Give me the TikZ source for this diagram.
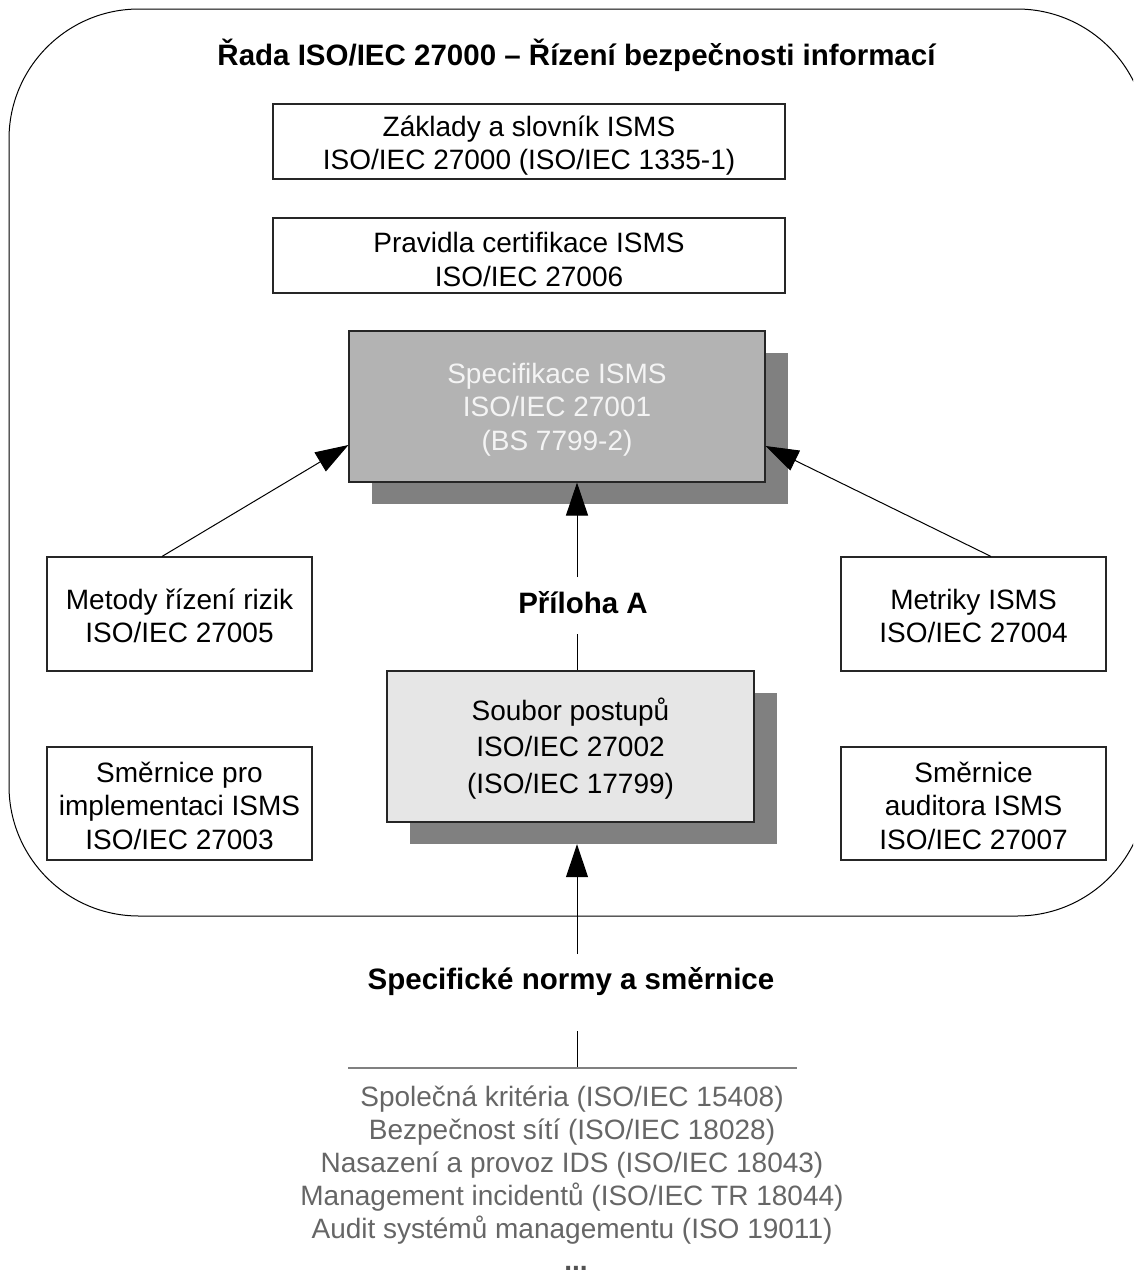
\documentclass[tikz,border=0pt]{standalone}
\usepackage{fontspec}
\setmainfont{Liberation Sans}
\usetikzlibrary{arrows.meta}

\definecolor{specfill}{HTML}{B3B3B3}
\definecolor{codefill}{HTML}{E6E6E6}
\definecolor{shadowgray}{HTML}{808080}
\definecolor{listgray}{HTML}{666666}
\definecolor{specink}{HTML}{F4F4F4}

\begin{document}
\begin{tikzpicture}[x=1pt,y=-1pt,
  every node/.style={font=\fontsize{28}{33.5}\selectfont, inner sep=0pt},
  frame/.style 2 args={draw=black!85, line width=1.1pt, fill=white,
    minimum width=#1, minimum height=#2},
  boxtext/.style={align=center},
  shadowbox/.style 2 args={fill=shadowgray, minimum width=#1, minimum height=#2},
  arr/.style={draw=black, line width=1pt, -{Triangle[length=33pt,width=22pt]}},
  plain/.style={draw=black, line width=1pt},
  heading/.style={font=\fontsize{29.5}{34}\selectfont\bfseries}]

  \clip (0,0) rectangle (1133,1277);

  % outer frame of the series
  \draw[line width=1pt, rounded corners=130pt] (9,9) rectangle (1147,916);

  \node[heading] (title) at (576.5,55) {Řada ISO/IEC 27000 – Řízení bezpečnosti informací};

  % upper boxes
  \node[frame={512pt}{75pt}] (vocab) at (529,141.5) {};
  \node[boxtext] (vocabtext) at ([yshift=-4pt]vocab.center)
    {Základy a slovník ISMS\\ISO/IEC 27000 (ISO/IEC 1335-1)};
  \node[frame={512pt}{75pt}] (cert) at (529,255.5) {};
  \node[boxtext] (certtext) at ([yshift=-4pt]cert.center)
    {Pravidla certifikace ISMS\\ISO/IEC 27006};

  % specification with shadow
  \node[shadowbox={416pt}{151pt}] (specsh) at (580,428.5) {};
  \node[frame={416pt}{151pt}, fill=specfill] (spec) at (557,406.5) {};
  \node[boxtext, text=specink] (spectext) at ([yshift=-3pt]spec.center)
    {Specifikace ISMS\\ISO/IEC 27001\\(BS 7799-2)};

  % side boxes
  \node[frame={265pt}{114pt}] (risk) at (179.5,614) {};
  \node[boxtext] (risktext) at ([yshift=-2pt]risk.center)
    {Metody řízení rizik\\ISO/IEC 27005};
  \node[frame={265pt}{114pt}] (metrics) at (973.5,614) {};
  \node[boxtext] (metricstext) at ([yshift=-2pt]metrics.center)
    {Metriky ISMS\\ISO/IEC 27004};
  \node[frame={265pt}{113pt}] (impl) at (179.5,803.5) {};
  \node[boxtext] (impltext) at ([yshift=-2pt]impl.center)
    {Směrnice pro\\implementaci ISMS\\ISO/IEC 27003};
  \node[frame={265pt}{113pt}] (audit) at (973.5,803.5) {};
  \node[boxtext] (audittext) at ([yshift=-2pt]audit.center)
    {Směrnice\\auditora ISMS\\ISO/IEC 27007};

  % code of practice with shadow
  \node[shadowbox={367pt}{151pt}] (codesh) at (593.5,768.5) {};
  \node[frame={367pt}{151pt}, fill=codefill] (code) at (570.5,746.5) {};
  \node[boxtext, font=\fontsize{28}{36.5}\selectfont] (codetext)
    at ([yshift=-2pt]code.center)
    {Soubor postupů\\ISO/IEC 27002\\(ISO/IEC 17799)};

  % annex label between the two
  \node[heading] (annex) at (583,603) {Příloha A};
  \coordinate (annextop) at (577,577);
  \coordinate (annexbot) at (577,634);

  % arrows into the specification
  \draw[arr] ([xshift=-17.5pt]risk.north) -- ([yshift=-38.5pt]spec.west);
  \draw[arr] ([xshift=17.5pt]metrics.north) -- ([yshift=-39.5pt]spec.east);
  \draw[arr] (annextop) -- (annextop |- spec.south);
  \draw[plain] (annexbot) -- (annexbot |- code.north);

  % specific standards below
  \node[heading] (specific) at (571,982) {Specifické normy a směrnice};
  \coordinate (spectop) at (577,954);
  \coordinate (specbot) at (577,1031);
  \coordinate (barmid) at (577,1068);
  \coordinate (barleft) at (348,1068);
  \coordinate (barright) at (797,1068);
  \draw[arr] (spectop) -- (spectop |- codesh.south);
  \draw[plain] (specbot) -- (barmid);
  \draw[draw=shadowgray, line width=1.2pt] (barleft) -- (barright);

  \node[text=listgray, align=center, anchor=north,
        font=\fontsize{28}{33}\selectfont] (list) at (572,1086)
    {Společná kritéria (ISO/IEC 15408)\\
     Bezpečnost sítí (ISO/IEC 18028)\\
     Nasazení a provoz IDS (ISO/IEC 18043)\\
     Management incidentů (ISO/IEC TR 18044)\\
     Audit systémů managementu (ISO 19011)};
  \node[text=listgray!80!black, font=\fontsize{28}{33}\selectfont\bfseries,
        anchor=base] (more) at (576,1270) {...};
\end{tikzpicture}
\end{document}
